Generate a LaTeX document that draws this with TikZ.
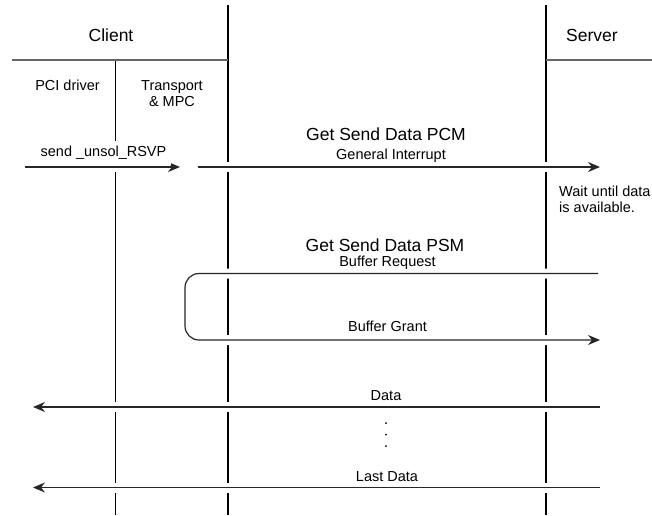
\documentclass[tikz,border=0pt]{standalone}
\usepackage{fontspec}
\setmainfont{Liberation Sans}
\usetikzlibrary{arrows.meta, positioning}

\tikzset{
  bigtext/.style={font=\fontsize{17.5}{21}\selectfont, inner sep=1pt},
  smalltext/.style={font=\fontsize{14.5}{16.5}\selectfont, inner sep=1pt},
  lifeline/.style={line width=2.2pt},
  subline/.style={line width=1pt},
  headline/.style={line width=1.4pt, black!60},
  msg/.style={line width=1.2pt, black!85, preaction={draw=white, line width=10pt}},
  msgtip/.style={-{Stealth[length=12pt, width=10pt, inset=4pt]}}
}

\begin{document}
\begin{tikzpicture}[x=1pt, y=-1pt]
  \useasboundingbox (0,0) rectangle (652,515);

  % Lifelines
  \coordinate (drvTop) at (115,60);
  \coordinate (drvBot) at (115,515);
  \coordinate (cliTop) at (228,5);
  \coordinate (cliBot) at (228,515);
  \coordinate (srvTop) at (546,5);
  \coordinate (srvBot) at (546,515);
  \coordinate (cliHdr) at (12,60);
  \coordinate (srvHdr) at (652,60);

  \draw[lifeline] (cliTop) -- (cliBot);
  \draw[lifeline] (srvTop) -- (srvBot);
  \draw[subline] (drvTop) -- (drvBot);
  \draw[headline] (cliHdr) -- (cliHdr -| cliTop);
  \draw[headline] (srvHdr -| srvTop) -- (srvHdr);

  % Headers
  \node[bigtext, anchor=base] (client) at (111,41.5) {Client};
  \node[bigtext, anchor=base] (server) at (592,41.5) {Server};
  \node[smalltext, anchor=base] (pcidrv) at (67.5,90.5) {PCI driver};
  \node[smalltext, anchor=north, align=center, inner sep=0pt] (transport) at (172,80) {Transport\\\& MPC};

  % Interrupt
  \coordinate (rsvpA) at (25,167);
  \coordinate (rsvpB) at (180,167);
  \coordinate (pcmA) at (198,167);
  \coordinate (pcmB) at (600,167);
  \draw[msg, msgtip] (rsvpA) -- (rsvpB);
  \draw[msg, msgtip] (pcmA) -- (pcmB);
  \node[smalltext, anchor=base, fill=white, inner sep=5pt] (rsvp) at (103.5,156.7) {send \_unsol\_RSVP};
  \node[bigtext, anchor=base] (pcm) at (386,140) {Get Send Data PCM};
  \node[smalltext, anchor=base] (genint) at (391,159) {General Interrupt};
  \node[smalltext, anchor=north west, align=left, inner sep=0pt] (wait) at (559,185.5) {Wait until data\\is available.};

  % Buffer loop
  \coordinate (reqA) at (598,273.5);
  \coordinate (loopL) at (185,300);
  \coordinate (grantB) at (600,340);
  \draw[msg, msgtip, rounded corners=14pt] (reqA) -- (loopL |- reqA) -- (loopL |- grantB) -- (grantB);
  \node[bigtext, anchor=base] (psm) at (385,251) {Get Send Data PSM};
  \node[smalltext, anchor=base] (bufreq) at (387.5,266) {Buffer Request};
  \node[smalltext, anchor=base] (bufgrant) at (387.5,331.5) {Buffer Grant};

  % Data transfer
  \coordinate (dataA) at (600,407);
  \coordinate (dataB) at (33,407);
  \coordinate (lastA) at (600,487.5);
  \coordinate (lastB) at (33,487.5);
  \draw[msg, msgtip] (dataA) -- (dataB);
  \draw[msg, msgtip] (lastA) -- (lastB);
  \node[smalltext, anchor=base] (data) at (386,400) {Data};
  \node[smalltext, anchor=base] (lastdata) at (387,481.5) {Last Data};
  \foreach \y in {423,434.5,446}
    \fill (386,\y) circle (1pt);
\end{tikzpicture}
\end{document}
